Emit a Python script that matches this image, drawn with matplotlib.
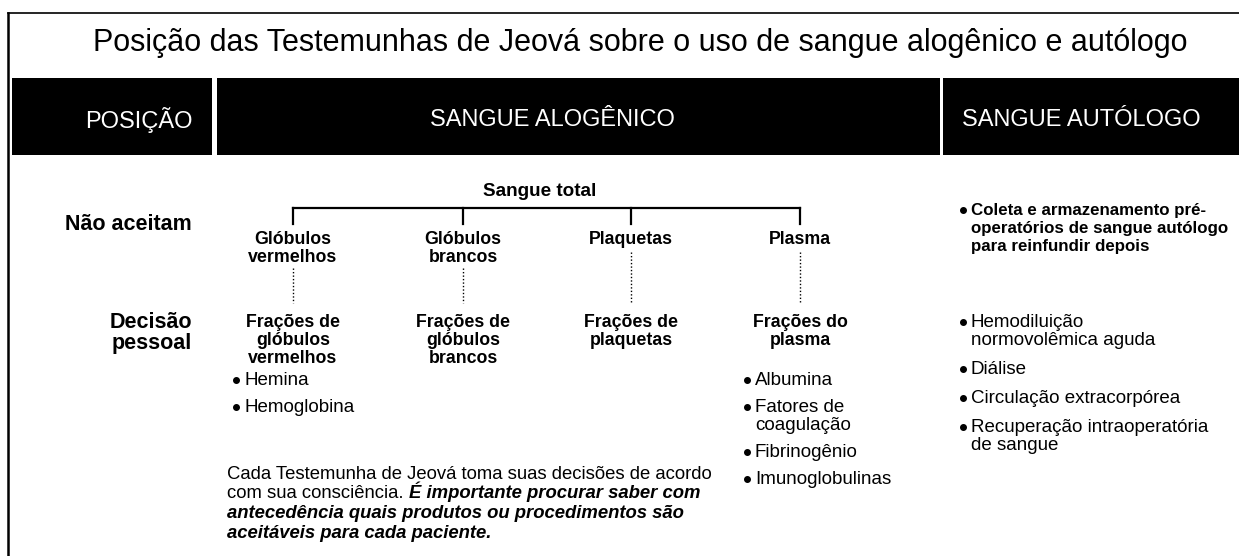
import matplotlib
matplotlib.use("Agg")
from matplotlib import pyplot as plt

FONTE = ['Liberation Sans', 'DejaVu Sans']

titulo = "Posição das Testemunhas de Jeová sobre o uso de sangue alogênico e autólogo"
cabecalhos = ["POSIÇÃO", "SANGUE ALOGÊNICO", "SANGUE AUTÓLOGO"]
linhas = ["Não aceitam", "Decisão\npessoal"]
raiz = "Sangue total"
componentes = ["Glóbulos\nvermelhos", "Glóbulos\nbrancos", "Plaquetas", "Plasma"]
fracoes = ["Frações de\nglóbulos\nvermelhos", "Frações de\nglóbulos\nbrancos",
           "Frações de\nplaquetas", "Frações do\nplasma"]
itens_vermelhos = ["Hemina", "Hemoglobina"]
itens_plasma = ["Albumina", "Fatores de\ncoagulação", "Fibrinogênio", "Imunoglobulinas"]
autologo_nao = ["Coleta e armazenamento pré-\noperatórios de sangue autólogo\npara reinfundir depois"]
autologo_decisao = ["Hemodiluição\nnormovolêmica aguda", "Diálise",
                    "Circulação extracorpórea", "Recuperação intraoperatória\nde sangue"]
nota_normal = ["Cada Testemunha de Jeová toma suas decisões de acordo", "com sua consciência. "]
nota_destaque = ["É importante procurar saber com",
                 "antecedência quais produtos ou procedimentos são",
                 "aceitáveis para cada paciente."]


def lista_marcadores(ax, x, y, itens, passo, peso="normal", tam=13.5):
    # marcador + texto linha a linha (baseline), quebras alinhadas depois do marcador
    for item in itens:
        partes = item.split("\n")
        ax.plot(x + 3, y, marker="o", ms=4, color="black")
        for k, parte in enumerate(partes):
            ax.text(x + 11, y + 5 + k * 18, parte, fontsize=tam, family=FONTE,
                    va="baseline", ha="left", fontweight=peso)
        y += passo + (len(partes) - 1) * 18


def main():
    fig = plt.figure(figsize=(12.39, 5.56), dpi=100)
    ax = fig.add_axes([0, 0, 1, 1])
    ax.set_xlim(0, 1239)
    ax.set_ylim(556, 0)
    ax.axis("off")

    # moldura: topo e lado esquerdo
    ax.plot([8, 1239], [13, 13], color="black", lw=1.2)
    ax.plot([8, 8], [13, 556], color="black", lw=1.8)

    ax.text(640, 43, titulo, fontsize=22, family=FONTE, ha="center", va="center")

    # barras pretas do cabecalho
    barras = [(12, 212), (217, 940), (943, 1239)]
    pos_texto = [(193, "right"), (552, "center"), (962, "left")]
    for (x0, x1), nome, (tx, ha) in zip(barras, cabecalhos, pos_texto):
        ax.fill_between([x0, x1], 78, 155, color="black", lw=0)
        ax.text(tx, 120, nome, fontsize=17, family=FONTE, color="white",
                ha=ha, va="center")

    ax.text(192, 225, linhas[0], fontsize=15.5, family=FONTE, fontweight="bold",
            ha="right", va="center")
    ax.text(192, 333, linhas[1], fontsize=15.5, family=FONTE, fontweight="bold",
            ha="right", va="center", linespacing=0.95, multialignment="right")

    # arvore do sangue total
    xs = [293, 463, 631, 800]
    ax.text(540, 191, raiz, fontsize=13.6, family=FONTE, fontweight="bold",
            ha="center", va="center")
    ax.plot([xs[0], xs[-1]], [208, 208], color="black", lw=1.6)
    for x, comp, frac in zip(xs, componentes, fracoes):
        ax.plot([x, x], [208, 224], color="black", lw=1.6)
        ax.text(x, 231, comp, fontsize=12.8, family=FONTE, fontweight="bold",
                ha="center", va="top", linespacing=1.06)
        topo = 268 if "\n" in comp else 252
        ax.plot([x, x], [topo, 303], color="black", lw=1.0, ls=(0, (1, 1.5)))
        ax.text(x, 314, frac, fontsize=12.8, family=FONTE, fontweight="bold",
                ha="center", va="top", linespacing=1.06)

    lista_marcadores(ax, 233, 380, itens_vermelhos, 27)
    lista_marcadores(ax, 744, 380, itens_plasma, 27)
    lista_marcadores(ax, 960, 210, autologo_nao, 27, peso="bold", tam=12.2)
    lista_marcadores(ax, 960, 322, autologo_decisao, 29)

    # nota com trecho em negrito italico, tudo pela baseline
    fig.canvas.draw()
    rend = fig.canvas.get_renderer()
    y = 479
    ax.text(227, y, nota_normal[0], fontsize=13.3, family=FONTE, va="baseline", ha="left")
    y += 19.5
    t = ax.text(227, y, nota_normal[1], fontsize=13.3, family=FONTE, va="baseline", ha="left")
    bb = t.get_window_extent(renderer=rend)
    x_fim = ax.transData.inverted().transform((bb.x1, bb.y0))[0]
    ax.text(x_fim, y, nota_destaque[0], fontsize=13.3, family=FONTE, va="baseline", ha="left",
            fontweight="bold", style="italic")
    for linha in nota_destaque[1:]:
        y += 19.5
        ax.text(227, y, linha, fontsize=13.3, family=FONTE, va="baseline", ha="left",
                fontweight="bold", style="italic")

    fig.savefig("out.png", dpi=100)


if __name__ == "__main__":
    main()
